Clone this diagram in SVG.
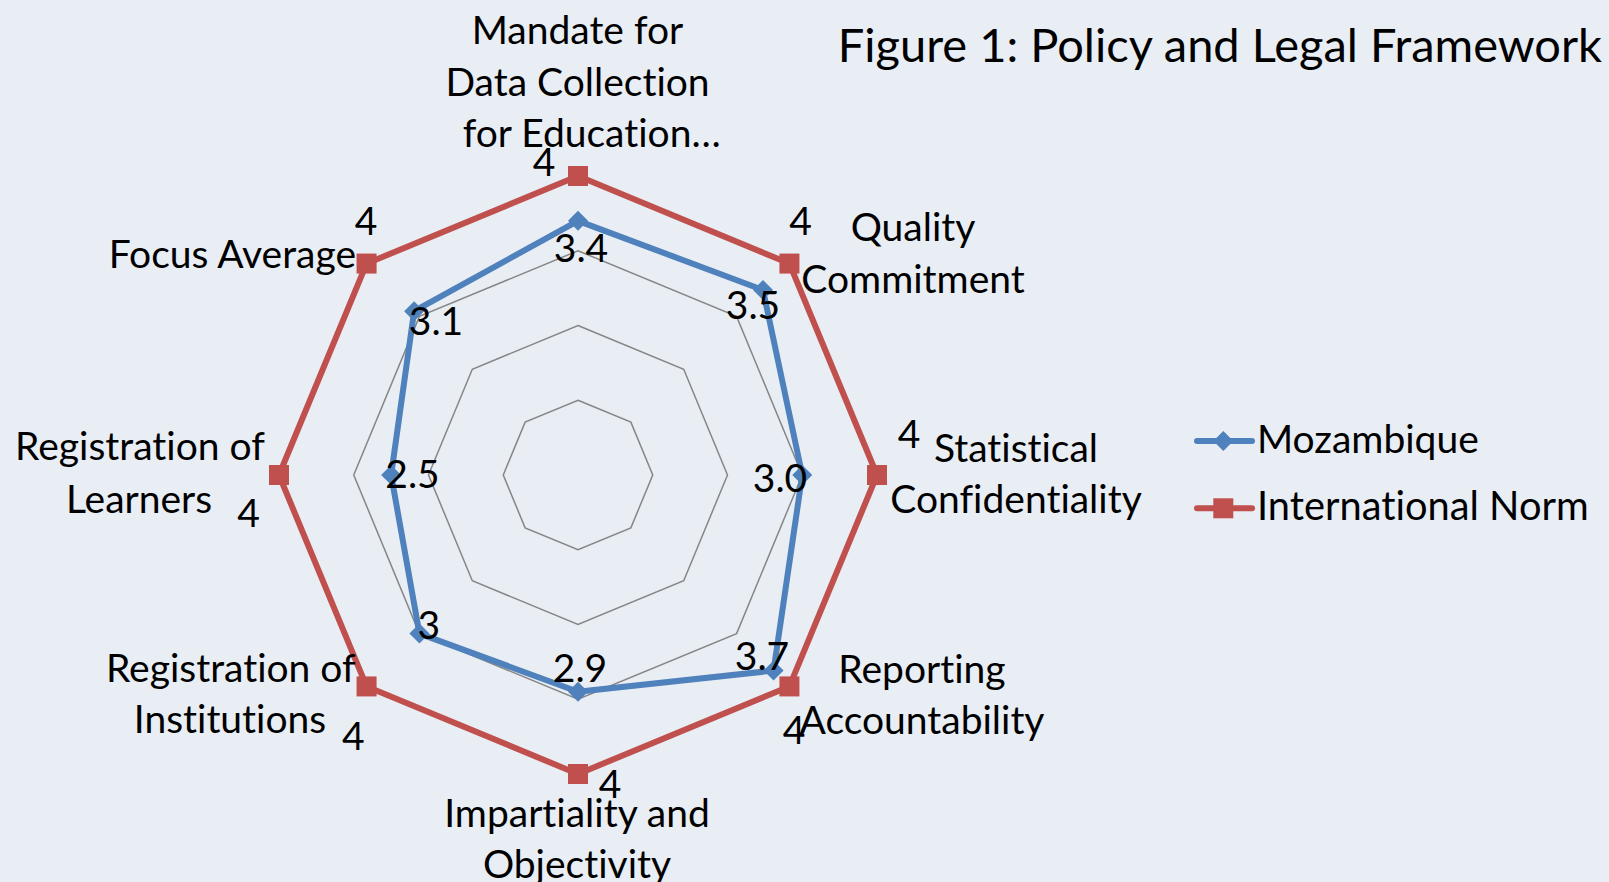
<svg xmlns="http://www.w3.org/2000/svg" width="1609" height="882" viewBox="0 0 1609 882">
  <style>
    .t { font-family: Lato, "Open Sans", "Liberation Sans", sans-serif; font-size: 39px; fill: #000; font-variant-ligatures: none; }
    .m { text-anchor: middle; }
    .title { font-family: Lato, "Open Sans", "Liberation Sans", sans-serif; font-size: 47px; fill: #000; font-variant-ligatures: none; }
    .grid { fill: none; stroke: #868686; stroke-width: 1.5; }
    .blue { fill: none; stroke: #4F81BD; stroke-width: 6; stroke-linejoin: round; }
    .red { fill: none; stroke: #C0504D; stroke-width: 6; stroke-linejoin: round; }
  </style>
  <defs>
    <polygon id="dia" points="0,-10 10,0 0,10 -10,0" fill="#4F81BD"/>
    <rect id="sq" x="-10" y="-10" width="20" height="20" fill="#C0504D"/>
  </defs>
  <rect width="1609" height="882" fill="#E9EDF4"/>

  <g id="gridlines">
    <polygon class="grid" points="578,400.25 630.86,422.14 652.75,475 630.86,527.86 578,549.75 525.14,527.86 503.25,475 525.14,422.14"/>
    <polygon class="grid" points="578,325.5 683.71,369.29 727.5,475 683.71,580.71 578,624.5 472.29,580.71 428.5,475 472.29,369.29"/>
    <polygon class="grid" points="578,250.75 736.57,316.43 802.25,475 736.57,633.57 578,699.25 419.43,633.57 353.75,475 419.43,316.43"/>
    <polygon class="grid" points="578,176 789.43,263.57 877,475 789.43,686.43 578,774 366.57,686.43 279,475 366.57,263.57"/>
  </g>

  <g id="connectors">
    <g id="series-mozambique">
      <polygon class="blue" points="578,220.85 763,290 802.25,475 773.57,670.57 578,691.78 419.43,633.57 391.12,475 414.14,311.14"/>
      <use href="#dia" x="578" y="220.85"/>
      <use href="#dia" x="763" y="290"/>
      <use href="#dia" x="802.25" y="475"/>
      <use href="#dia" x="773.57" y="670.57"/>
      <use href="#dia" x="578" y="691.78"/>
      <use href="#dia" x="419.43" y="633.57"/>
      <use href="#dia" x="391.12" y="475"/>
      <use href="#dia" x="414.14" y="311.14"/>
    </g>
    <g id="series-norm">
      <polygon class="red" points="578,176 789.43,263.57 877,475 789.43,686.43 578,774 366.57,686.43 279,475 366.57,263.57"/>
      <use href="#sq" x="578" y="176"/>
      <use href="#sq" x="789.43" y="263.57"/>
      <use href="#sq" x="877" y="475"/>
      <use href="#sq" x="789.43" y="686.43"/>
      <use href="#sq" x="578" y="774"/>
      <use href="#sq" x="366.57" y="686.43"/>
      <use href="#sq" x="279" y="475"/>
      <use href="#sq" x="366.57" y="263.57"/>
    </g>
  </g>

  <g id="axis-mandate">
    <text class="t m" x="577.5" y="44">Mandate for</text>
    <text class="t m" x="577.5" y="96">Data Collection</text>
    <text class="t m" x="591.7" y="147">for Education…</text>
    <text class="t m" x="544" y="176">4</text>
    <text class="t m" x="581" y="262">3.4</text>
  </g>
  <g id="axis-quality">
    <text class="t m" x="913" y="241">Quality</text>
    <text class="t m" x="913" y="293">Commitment</text>
    <text class="t m" x="800.5" y="235">4</text>
    <text class="t m" x="753" y="319">3.5</text>
  </g>
  <g id="axis-confidentiality">
    <text class="t m" x="1016" y="462">Statistical</text>
    <text class="t m" x="1016" y="513">Confidentiality</text>
    <text class="t m" x="909" y="448">4</text>
    <text class="t m" x="780" y="492">3.0</text>
  </g>
  <g id="axis-reporting">
    <text class="t m" x="922" y="683">Reporting</text>
    <text class="t m" x="922" y="734">Accountability</text>
    <text class="t m" x="794" y="744">4</text>
    <text class="t m" x="762" y="670">3.7</text>
  </g>
  <g id="axis-impartiality">
    <text class="t m" x="577" y="827">Impartiality and</text>
    <text class="t m" x="577" y="878">Objectivity</text>
    <text class="t m" x="610" y="798">4</text>
    <text class="t m" x="580" y="682">2.9</text>
  </g>
  <g id="axis-institutions">
    <text class="t m" x="230.8" y="682">Registration of</text>
    <text class="t m" x="230" y="733">Institutions</text>
    <text class="t m" x="353.3" y="750">4</text>
    <text class="t m" x="428.7" y="639">3</text>
  </g>
  <g id="axis-learners">
    <text class="t m" x="140" y="460">Registration of</text>
    <text class="t m" x="139" y="513">Learners</text>
    <text class="t m" x="248.5" y="527">4</text>
    <text class="t m" x="412.5" y="488">2.5</text>
  </g>
  <g id="axis-focus">
    <text class="t" x="356" y="268" text-anchor="end">Focus Average</text>
    <text class="t m" x="366" y="235">4</text>
    <text class="t m" x="436" y="335">3.1</text>
  </g>

  <g id="legend">
    <line x1="1197" y1="441" x2="1252" y2="441" stroke="#4F81BD" stroke-width="6" stroke-linecap="round"/>
    <use href="#dia" x="1223.3" y="441"/>
    <text class="t" x="1257" y="453" font-size="39.5">Mozambique</text>
    <line x1="1197" y1="508.3" x2="1252" y2="508.3" stroke="#C0504D" stroke-width="6" stroke-linecap="round"/>
    <use href="#sq" x="1223.3" y="508.3"/>
    <text class="t" x="1257" y="520" style="font-size:39.8px">International Norm</text>
  </g>

  <g id="title">
    <text class="title" x="1602" y="62" text-anchor="end">Figure 1: Policy and Legal Framework</text>
  </g>
</svg>
